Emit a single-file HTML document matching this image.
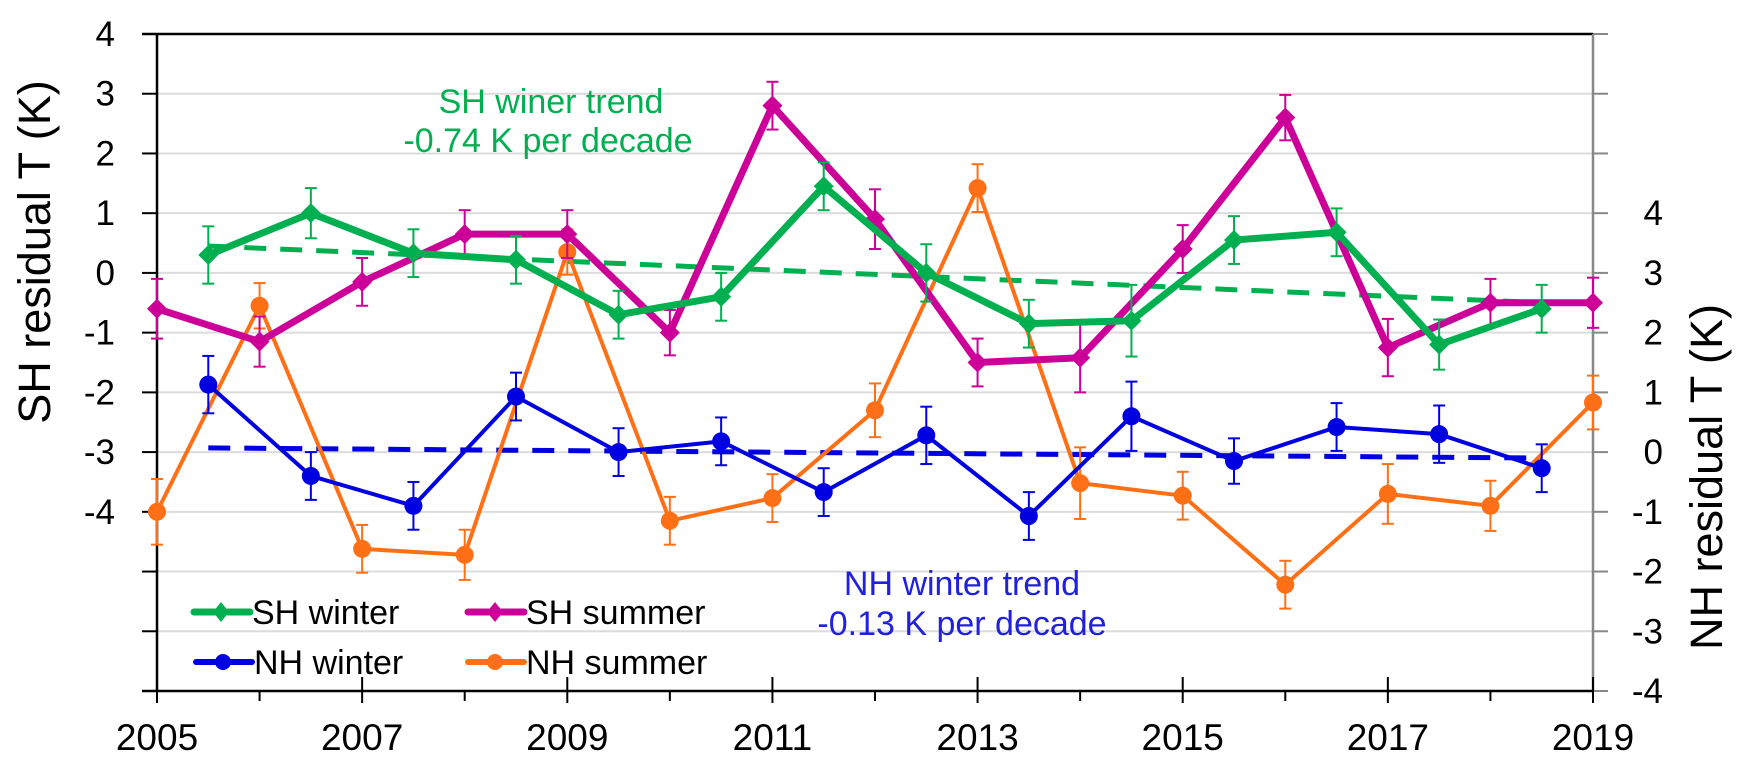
<!DOCTYPE html>
<html><head><meta charset="utf-8"><style>
body{margin:0;background:#fff}
svg{display:block;font-family:"Liberation Sans",Arial,sans-serif}
</style></head><body>
<svg id="chart" width="1750" height="769" viewBox="0 0 1750 769" xmlns="http://www.w3.org/2000/svg">
<g id="grid"></g>
<g id="axes"></g>
<g id="series"></g>
<text x="551" y="113" text-anchor="middle" font-size="34" fill="#00b050">SH winer trend</text>
<text x="548" y="152" text-anchor="middle" font-size="34" fill="#00b050">-0.74 K per decade</text>
<text x="962" y="595" text-anchor="middle" font-size="34" fill="#2020dd">NH winter trend</text>
<text x="962" y="635" text-anchor="middle" font-size="34" fill="#2020dd">-0.13 K per decade</text>
<text transform="translate(50,252) rotate(-90)" text-anchor="middle" font-size="45" fill="#000">SH residual T (K)</text>
<text transform="translate(1722,477) rotate(-90)" text-anchor="middle" font-size="45" fill="#000">NH residual T (K)</text>
<g id="legend"></g>
</svg>
<script>
const leftTicks=[4,3,2,1,0,-1,-2,-3,-4];
const rightTicks=[4,3,2,1,0,-1,-2,-3,-4];
const xTickLabels=[2005,2007,2009,2011,2013,2015,2017,2019];
const halfYears=[2005.5,2006.5,2007.5,2008.5,2009.5,2010.5,2011.5,2012.5,2013.5,2014.5,2015.5,2016.5,2017.5,2018.5];
const years=[2005,2006,2007,2008,2009,2010,2011,2012,2013,2014,2015,2016,2017,2018,2019];
const shWinter=[0.3,1.0,0.33,0.22,-0.7,-0.4,1.45,0.0,-0.85,-0.8,0.55,0.68,-1.2,-0.6];
const shWinterErr=[0.48,0.42,0.4,0.4,0.4,0.4,0.4,0.48,0.4,0.6,0.4,0.4,0.42,0.4];
const shSummer=[-0.6,-1.15,-0.15,0.65,0.65,-1.0,2.8,0.9,-1.5,-1.42,0.4,2.6,-1.25,-0.5,-0.5];
const shSummerErr=[0.5,0.42,0.4,0.4,0.4,0.38,0.4,0.5,0.4,0.58,0.4,0.38,0.48,0.4,0.42];
const nhWinter=[1.13,-0.4,-0.9,0.93,0.0,0.18,-0.67,0.28,-1.07,0.6,-0.15,0.42,0.3,-0.27];
const nhWinterErr=[0.48,0.4,0.4,0.4,0.4,0.4,0.4,0.48,0.4,0.58,0.38,0.4,0.48,0.4];
const nhSummer=[-1.0,2.45,-1.62,-1.72,3.35,-1.15,-0.77,0.7,4.42,-0.52,-0.73,-2.22,-0.7,-0.9,0.83];
const nhSummerErr=[0.55,0.38,0.4,0.42,0.38,0.4,0.4,0.45,0.4,0.6,0.4,0.4,0.5,0.42,0.45];
const shTrend=[0.45,-0.5];
const nhTrend=[0.07,-0.1];

const X0=157,X1=1593,Y0=34,Y1=691;
const xs=y=>X0+(y-2005)/(14)*(X1-X0);
const yL=v=>Y0+(4-v)/11*(Y1-Y0);
const yR=v=>Y0+(7-v)/11*(Y1-Y0);
const NS='http://www.w3.org/2000/svg';
function mk(tag,attrs,parent){const e=document.createElementNS(NS,tag);for(const k in attrs)e.setAttribute(k,attrs[k]);parent.appendChild(e);return e;}
const grid=document.getElementById('grid'),axes=document.getElementById('axes'),series=document.getElementById('series'),legend=document.getElementById('legend');

for(let v=3;v>=-6;v--){const l=mk('line',{x1:X0,x2:X1,y1:yL(v),y2:yL(v),stroke:'#dcdcdc','stroke-width':2},grid);

}

let a;
a=mk('line',{x1:X0-15,x2:X1,y1:Y0,y2:Y0,stroke:'#000','stroke-width':2.5},axes);

a=mk('line',{x1:X0,x2:X0,y1:Y0,y2:Y1,stroke:'#000','stroke-width':2.5},axes);

a=mk('line',{x1:X1,x2:X1,y1:Y0,y2:Y1,stroke:'#888','stroke-width':2.5},axes);

a=mk('line',{x1:X0-15,x2:X1,y1:Y1,y2:Y1,stroke:'#000','stroke-width':2.5},axes);


for(let v=4;v>=-7;v--){mk('line',{x1:X0-15,x2:X0,y1:yL(v),y2:yL(v),stroke:'#000','stroke-width':2},axes);}
leftTicks.forEach(v=>{const t=mk('text',{x:115,y:yL(v)+12,'text-anchor':'end','font-size':35},axes);t.textContent=v;

});
for(let v=7;v>=-4;v--){mk('line',{x1:X1,x2:X1+15,y1:yR(v),y2:yR(v),stroke:'#888','stroke-width':2},axes);}
rightTicks.forEach(v=>{const t=mk('text',{x:1663,y:yR(v)+12,'text-anchor':'end','font-size':35},axes);t.textContent=v;

});
for(let y=2005;y<=2019;y++){const major=(y%2===1);mk('line',{x1:xs(y),x2:xs(y),y1:major?Y1-14:Y1,y2:major?Y1+12:Y1+10,stroke:'#000','stroke-width':2},axes);}
xTickLabels.forEach(y=>{const t=mk('text',{x:xs(y),y:750,'text-anchor':'middle','font-size':37},axes);t.textContent=y;

});

function trend(xv,vals,sc,color,name){const l=mk('line',{x1:xs(xv[0]),x2:xs(xv[xv.length-1]),y1:sc(vals[0]),y2:sc(vals[1]),stroke:color,'stroke-width':5,'stroke-dasharray':'22,14'},series);

}
function draw(xv,vals,errs,sc,color,marker,name,lw){
 const g=mk('g',{},series);
 
 
 vals.forEach((v,i)=>{const x=xs(xv[i]),y1=sc(v-errs[i]),y2=sc(v+errs[i]);
  mk('line',{x1:x,x2:x,y1:y1,y2:y2,stroke:color,'stroke-width':2},g);
  mk('line',{x1:x-6,x2:x+6,y1:y1,y2:y1,stroke:color,'stroke-width':2},g);
  mk('line',{x1:x-6,x2:x+6,y1:y2,y2:y2,stroke:color,'stroke-width':2},g);});
 mk('polyline',{points:vals.map((v,i)=>xs(xv[i])+','+sc(v)).join(' '),fill:'none',stroke:color,'stroke-width':lw,'stroke-linejoin':'round'},g);
 vals.forEach((v,i)=>{const x=xs(xv[i]),y=sc(v);let m;
  if(marker==='d')m=mk('polygon',{points:`${x},${y-10} ${x+10},${y} ${x},${y+10} ${x-10},${y}`,fill:color},g);
  else m=mk('circle',{cx:x,cy:y,r:9,fill:color},g);
  
  });
}
trend([halfYears[0],halfYears[13]],shTrend,yL,'#00b050','sh-winter-trend-line');
trend([halfYears[0],halfYears[13]],nhTrend,yR,'#0000e0','nh-winter-trend-line');
draw(years,nhSummer,nhSummerErr,yR,'#ff7016','c','nh-summer-series',4);
draw(halfYears,nhWinter,nhWinterErr,yR,'#0000e0','c','nh-winter-series',4);
draw(years,shSummer,shSummerErr,yL,'#cc0099','d','sh-summer-series',7);
draw(halfYears,shWinter,shWinterErr,yL,'#00b050','d','sh-winter-series',7);

const leg=[['SH winter','#00b050','d',194,612,7],['SH summer','#cc0099','d',468,612,7],['NH winter','#0000e0','c',196,662,6],['NH summer','#ff7016','c',468,662,6]];
leg.forEach(([lab,c,m,x,y,w])=>{const g=mk('g',{},legend);
 
 
 mk('line',{x1:x,x2:x+56,y1:y,y2:y,stroke:c,'stroke-width':w,'stroke-linecap':'round'},g);
 const cx=x+27;
 if(m==='d')mk('polygon',{points:`${cx},${y-10} ${cx+8},${y} ${cx},${y+10} ${cx-8},${y}`,fill:c},g);
 else mk('circle',{cx:cx,cy:y,r:8,fill:c},g);
 const t=mk('text',{x:x+58,y:y+12,'font-size':34},g);t.textContent=lab;});
</script>
</body></html>
